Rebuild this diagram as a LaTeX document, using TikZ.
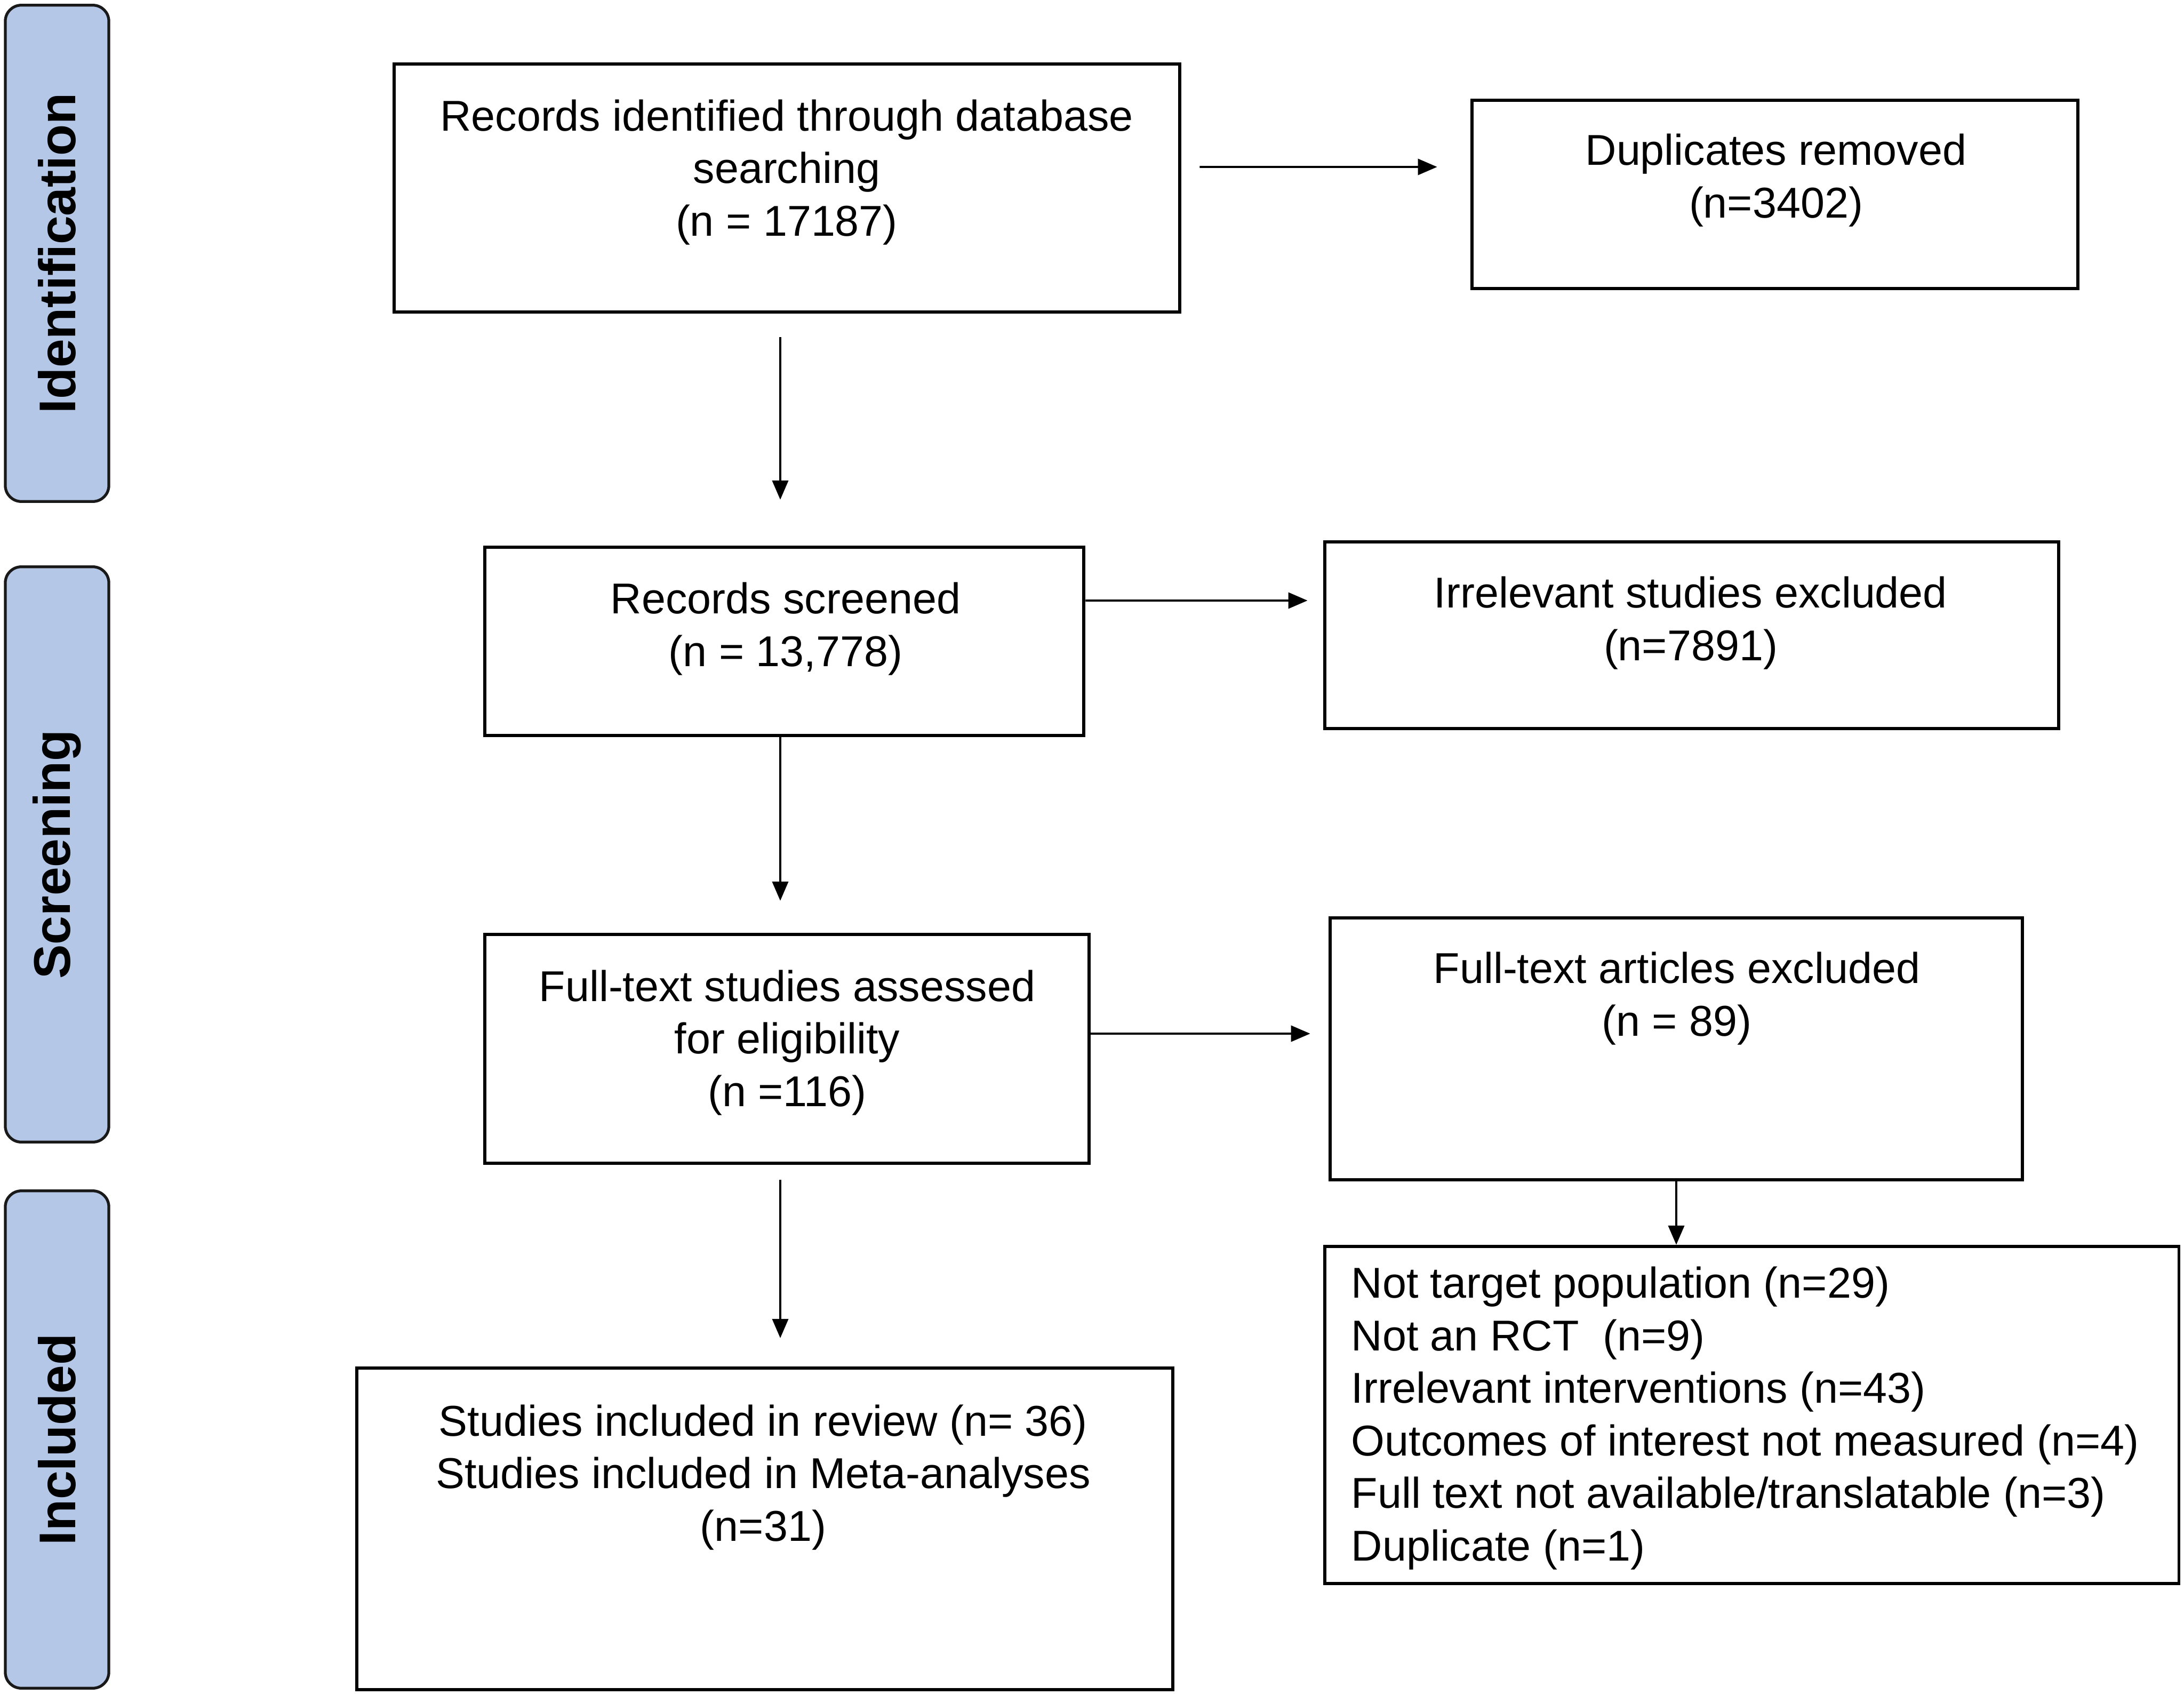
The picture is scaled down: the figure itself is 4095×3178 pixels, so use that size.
\documentclass[tikz,border=0pt]{standalone}
\usepackage{fontspec}
\setmainfont{Liberation Sans}
\usetikzlibrary{arrows.meta}
\definecolor{phaseblue}{RGB}{180,199,231}
\begin{document}
\begin{tikzpicture}[x=0.01cm, y=-0.01cm,
	box/.style={rectangle, draw=black, line width=1.7pt, fill=white, inner sep=0pt},
	phase/.style={rectangle, rounded corners=0.3cm, draw=black!90, line width=1.5pt, fill=phaseblue, inner sep=0pt, minimum width=1.94cm},
	phasetxt/.style={rotate=90, inner sep=0pt, font=\fontsize{27.5}{33}\selectfont\bfseries},
	txt/.style={align=center, inner sep=0pt, font=\fontsize{23}{28}\selectfont},
	arr/.style={-{Triangle[length=0.36cm, width=0.3cm]}, line width=1.1pt}]
	\useasboundingbox (0,0) rectangle (4095,3178);

	\node[phase, minimum height=9.30cm](phaseid) at (107,475){};
	\node[phase, minimum height=10.78cm](phasescr) at (107,1602){};
	\node[phase, minimum height=9.32cm](phaseinc) at (107,2699){};
	\node[phasetxt](phaseidtxt) at (phaseid){Identification};
	\node[phasetxt](phasescrtxt) at (phasescr){Screening};
	\node[phasetxt](phaseinctxt) at (phaseinc){Included};

	\node[box, minimum width=14.73cm, minimum height=4.65cm](ident) at (1475.5,352.5){};
	\node[box, minimum width=11.36cm, minimum height=3.53cm](dup) at (3328,364.5){};
	\node[box, minimum width=11.23cm, minimum height=3.53cm](screened) at (1470.5,1202.5){};
	\node[box, minimum width=13.76cm, minimum height=3.50cm](irrel) at (3172,1191){};
	\node[box, minimum width=11.33cm, minimum height=4.29cm](fulltext) at (1475.5,1966.5){};
	\node[box, minimum width=12.98cm, minimum height=4.91cm](ftexcl) at (3143,1966.5){};
	\node[box, minimum width=16.01cm, minimum height=6.32cm](reasons) at (3284.5,2653){};
	\node[box, minimum width=15.30cm, minimum height=6.03cm](included) at (1434,2866.5){};

	\node[txt](identtxt) at (1475,323){Records identified through database\\searching\\(n = 17187)};
	\node[txt](duptxt) at (3330,338){Duplicates removed\\(n=3402)};
	\node[txt](screenedtxt) at (1473,1179){Records screened\\(n = 13,778)};
	\node[txt](irreltxt) at (3170,1168){Irrelevant studies excluded\\(n=7891)};
	\node[txt](fulltexttxt) at (1476,1955){Full-text studies assessed\\for eligibility\\(n =116)};
	\node[txt](ftexcltxt) at (3144,1872){Full-text articles excluded\\(n = 89)};
	\node[txt, align=left, anchor=west](reasonstxt) at (2533,2659){Not target population (n=29)\\Not an RCT~ (n=9)\\Irrelevant interventions (n=43)\\Outcomes of interest not measured (n=4)\\Full text not available/translatable (n=3)\\Duplicate (n=1)};
	\node[txt](includedtxt) at (1431,2770){Studies included in review (n= 36)\\Studies included in Meta-analyses\\(n=31)};

	\draw[arr] ([xshift=0.34cm, yshift=0.395cm]ident.east) -- ([xshift=-0.62cm, yshift=0.515cm]dup.west);
	\draw[arr] ([xshift=-0.125cm, yshift=-0.44cm]ident.south) -- ([xshift=-0.075cm, yshift=0.86cm]screened.north);
	\draw[arr] ([yshift=0.765cm]screened.east) -- ([xshift=-0.29cm, yshift=0.65cm]irrel.west);
	\draw[arr] ([xshift=-0.075cm]screened.south) -- ([xshift=-0.125cm, yshift=0.6cm]fulltext.north);
	\draw[arr] ([yshift=0.285cm]fulltext.east) -- ([xshift=-0.34cm, yshift=0.285cm]ftexcl.west);
	\draw[arr] (ftexcl.south) -- (ftexcl.south |- reasons.north);
	\draw[arr] ([xshift=-0.125cm, yshift=-0.28cm]fulltext.south) -- ([xshift=0.29cm, yshift=0.53cm]included.north);
\end{tikzpicture}
\end{document}
